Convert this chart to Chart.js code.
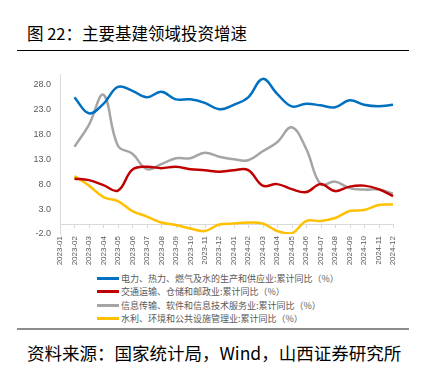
<!DOCTYPE html>
<html>
<head>
<meta charset="utf-8">
<script src="https://cdn.jsdelivr.net/npm/chart.js@4.4.1/dist/chart.umd.min.js"></script>
<style>
  body { margin: 0; width: 424px; height: 373px; background: #fff; position: relative; overflow: hidden; font-family: "Noto Sans CJK SC", sans-serif; }
  #title { position: absolute; left: 27px; top: 22px; font-size: 16.5px; color: #000; line-height: 22px; white-space: nowrap; }
  #rule1 { position: absolute; left: 17px; top: 50px; width: 392px; height: 1px; background: #000; }
  #box { position: absolute; left: 0; top: 60px; width: 424px; height: 208px; }
  #legend { position: absolute; left: 97px; top: 272px; font-size: 9px; color: #595959; }
  #legend .row { height: 13.3px; line-height: 13.3px; white-space: nowrap; }
  #legend .swatch { display: inline-block; width: 22px; height: 3px; vertical-align: middle; margin-right: 2px; position: relative; top: -1px; }
  #rule2 { position: absolute; left: 17px; top: 328px; width: 392px; height: 2px; background: #8c8c8c; }
  #source { position: absolute; left: 27px; top: 341px; font-size: 17.5px; color: #000; line-height: 24px; white-space: nowrap; }
</style>
</head>
<body>
<div id="title">图 22：主要基建领域投资增速</div>
<div id="rule1"></div>
<div id="box"><canvas id="myChart"></canvas></div>
<div id="legend"></div>
<div id="rule2"></div>
<div id="source">资料来源：国家统计局，Wind，山西证券研究所</div>
<script>
const months = [
  "2023-01", "2023-02", "2023-03", "2023-04", "2023-05", "2023-06",
  "2023-07", "2023-08", "2023-09", "2023-10", "2023-11", "2023-12",
  "2024-01", "2024-02", "2024-03", "2024-04", "2024-05", "2024-06",
  "2024-07", "2024-08", "2024-09", "2024-10", "2024-11", "2024-12",
];
const yTicks = [-2, 3, 8, 13, 18, 23, 28];

const power = [null, 25.4, 22.2, 24.1, 27.5, 26.7, 25.4, 26.5, 25.0, 25.0, 24.3, 23.0,
  23.9, 25.4, 29.1, 26.1, 23.6, 24.1, 23.8, 23.4, 24.8, 23.9, 23.6, 23.9];
const transport = [null, 9.1, 8.8, 7.8, 6.7, 10.9, 11.5, 11.2, 11.5, 11.0, 10.8, 10.5,
  10.8, 10.8, 7.7, 8.0, 7.0, 6.4, 8.0, 6.6, 7.5, 7.7, 7.0, 5.6];
const infoTech = [null, 15.5, 19.9, 25.9, 15.7, 14.1, 11.0, 12.0, 13.2, 13.2, 14.3, 13.5,
  13.0, 12.8, 14.6, 16.4, 19.4, 15.1, 8.0, 8.5, 7.2, 6.9, 6.9, 6.1];
const water = [null, 9.6, 7.7, 5.4, 4.6, 2.6, 1.5, 0.3, -0.2, -0.9, -1.4, -0.1,
  0.1, 0.3, 0.1, -1.4, -1.9, 0.6, 0.6, 1.2, 2.6, 2.8, 3.8, 3.9];

const seriesNames = [
  "电力、热力、燃气及水的生产和供应业:累计同比（%）",
  "交通运输、仓储和邮政业:累计同比（%）",
  "信息传输、软件和信息技术服务业:累计同比（%）",
  "水利、环境和公共设施管理业:累计同比（%）",
];
const seriesColors = ["#0070C0", "#C00000", "#A5A5A5", "#FFC000"];
const seriesData = [power, transport, infoTech, water];

// axis line at zero plus little tick marks, like the excel original
const zeroLine = {
  id: "zeroLine",
  beforeDatasetsDraw(chart) {
    const { ctx, scales } = chart;
    const y0 = scales.y.getPixelForValue(0);
    ctx.save();
    ctx.strokeStyle = "#d9d9d9";
    ctx.lineWidth = 1;
    ctx.beginPath();
    ctx.moveTo(scales.x.left, Math.round(y0) + 0.5);
    ctx.lineTo(scales.x.right, Math.round(y0) + 0.5);
    for (let i = 0; i < months.length; i++) {
      const px = Math.round(scales.x.getPixelForValue(i)) + 0.5;
      ctx.moveTo(px, Math.round(y0));
      ctx.lineTo(px, Math.round(y0) + 4);
    }
    ctx.stroke();
    ctx.restore();
  },
};

const ctx = document.getElementById("myChart");
const myChart = new Chart(ctx, {
  type: "line",
  data: {
    labels: months,
    datasets: seriesData.map((d, i) => ({
      label: seriesNames[i],
      data: d,
      borderColor: seriesColors[i],
      backgroundColor: seriesColors[i],
      borderWidth: 2.5,
      pointRadius: 0,
      tension: 0.4,
      fill: false,
    })),
  },
  options: {
    responsive: true,
    maintainAspectRatio: false,
    animation: false,
    layout: { padding: { left: 0, right: 31, top: 8, bottom: 0 } },
    plugins: { legend: { display: false }, tooltip: { enabled: false } },
    scales: {
      x: {
        grid: { display: false, drawTicks: false },
        border: { display: false },
        afterFit(scale) { scale.height = 34; },
        ticks: {
          autoSkip: false,
          maxRotation: 90,
          minRotation: 90,
          padding: 2,
          color: "#595959",
          font: { family: "Liberation Sans", size: 8 },
        },
      },
      y: {
        min: -2,
        max: 30,
        afterBuildTicks(scale) { scale.ticks = yTicks.map((v) => ({ value: v })); },
        afterFit(scale) { scale.width = 60; },
        grid: { display: false, drawTicks: false },
        border: { color: "#d9d9d9", width: 1 },
        ticks: {
          padding: 9,
          color: "#595959",
          font: { family: "Liberation Sans", size: 9 },
          callback: (v) => Number(v).toFixed(1),
        },
      },
    },
  },
  plugins: [zeroLine],
});

const legend = document.getElementById("legend");
myChart.data.datasets.forEach((ds) => {
  const row = document.createElement("div");
  row.className = "row";
  const sw = document.createElement("span");
  sw.className = "swatch";
  sw.style.background = ds.borderColor;
  row.appendChild(sw);
  row.appendChild(document.createTextNode(ds.label));
  legend.appendChild(row);
});
</script>
</body>
</html>
